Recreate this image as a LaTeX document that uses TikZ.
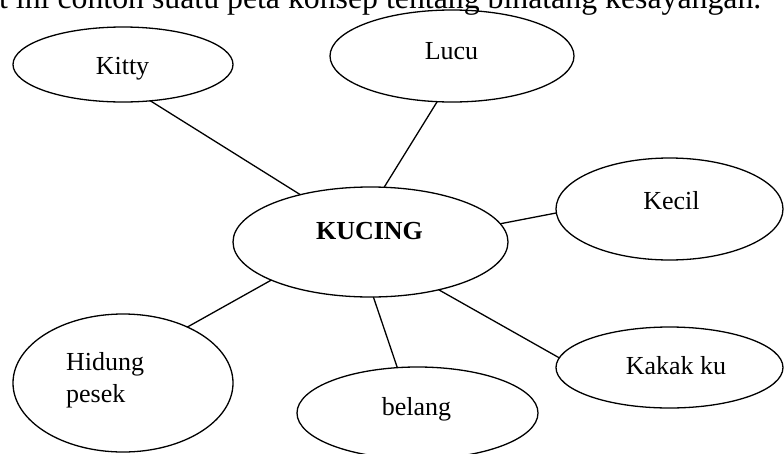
\documentclass[tikz,border=0pt]{standalone}
\usepackage{fontspec}
\setmainfont{Liberation Serif}
\usetikzlibrary{shapes.geometric}
\tikzset{
  bubble/.style={ellipse, draw, line width=1.3pt, inner sep=0pt, outer sep=0pt},
  link/.style={line width=1.3pt},
  lbl/.style={font=\fontsize{26}{30}\selectfont, inner sep=0pt, anchor=base},
}
\begin{document}
\begin{tikzpicture}[x=1pt,y=-1pt]
\clip (0,0) rectangle (784,453);
% caption line (cut off at the top)
\node[font=\fontsize{31.8}{36}\selectfont, inner sep=0pt, anchor=base west] (cap) at (-1,8)
  {t ini contoh suatu peta konsep tentang binatang kesayangan.};
% ellipses
\node[bubble, minimum width=220pt, minimum height=75pt] (kitty) at (123,64.5) {};
\node[bubble, minimum width=244pt, minimum height=92pt] (lucu) at (452,56) {};
\node[bubble, minimum width=275pt, minimum height=110pt] (kucing) at (370.5,242) {};
\node[bubble, minimum width=227pt, minimum height=102pt] (kecil) at (669.5,209) {};
\node[bubble, minimum width=227pt, minimum height=81pt] (kakak) at (669.5,367.5) {};
\node[bubble, minimum width=241pt, minimum height=92pt] (belang) at (417.5,413) {};
\node[bubble, minimum width=220pt, minimum height=138pt] (hidung) at (123,383) {};
% texts
\node[lbl] (tkitty) at (122.5,74) {Kitty};
\node[lbl] (tlucu) at (451.5,59) {Lucu};
\node[lbl] (tkucing) at (369.5,239) {\bfseries KUCING};
\node[lbl] (tkecil) at (671.5,209) {Kecil};
\node[lbl] (tkakak) at (676,374) {Kakak ku};
\node[lbl] (tbelang) at (416.5,415) {belang};
\node[lbl, anchor=base west] (thidung) at (66,370) {Hidung};
\node[lbl, anchor=base west] (tpesek) at (66,402) {pesek};
% connectors
\draw[link] (kitty.-53.25) -- (kucing.146.85);
\draw[link] (lucu.-108.06) -- (kucing.76.45);
\draw[link] (kucing.8.78) -- (kecil.-178);
\draw[link] (kucing.-35.4) -- (kakak.175.2);
\draw[link] (kucing.-87.4) -- (belang.114);
\draw[link] (kucing.-159.9) -- (hidung.41.2);
\end{tikzpicture}
\end{document}
